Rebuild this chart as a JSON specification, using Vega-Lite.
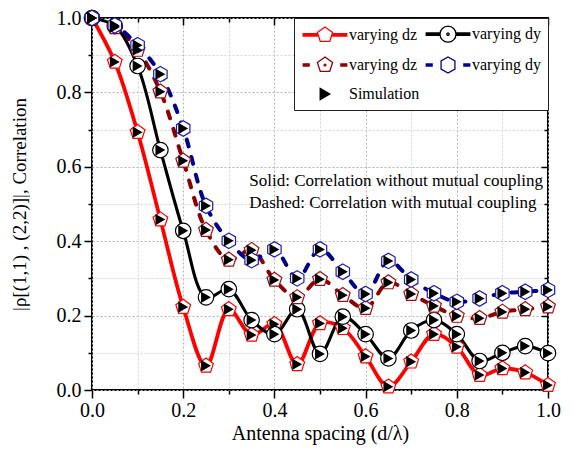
{
  "$schema": "https://vega.github.io/schema/vega-lite/v6.json",
  "width": 456,
  "height": 372,
  "autosize": "none",
  "padding": {"left": 92, "top": 18, "right": 25, "bottom": 59},
  "background": "white",
  "config": {
    "view": {"stroke": "black", "strokeWidth": 2},
    "font": "Liberation Serif",
    "axis": {"labelFont": "Liberation Serif", "titleFont": "Liberation Serif"},
    "legend": {"labelFont": "Liberation Serif", "titleFont": "Liberation Serif"},
    "text": {"font": "Liberation Serif"}
  },
  "datasets": {
    "corr": [
      {"x": 0.00, "v": 1.000, "s": "varying dz"}, {"x": 0.05, "v": 0.882, "s": "varying dz"}, {"x": 0.10, "v": 0.693, "s": "varying dz"}, {"x": 0.15, "v": 0.458, "s": "varying dz"}, {"x": 0.20, "v": 0.223, "s": "varying dz"}, {"x": 0.25, "v": 0.065, "s": "varying dz"}, {"x": 0.30, "v": 0.217, "s": "varying dz"}, {"x": 0.35, "v": 0.148, "s": "varying dz"}, {"x": 0.40, "v": 0.177, "s": "varying dz"}, {"x": 0.45, "v": 0.069, "s": "varying dz"}, {"x": 0.50, "v": 0.179, "s": "varying dz"}, {"x": 0.55, "v": 0.166, "s": "varying dz"}, {"x": 0.60, "v": 0.090, "s": "varying dz"}, {"x": 0.65, "v": 0.009, "s": "varying dz"}, {"x": 0.70, "v": 0.076, "s": "varying dz"}, {"x": 0.75, "v": 0.150, "s": "varying dz"}, {"x": 0.80, "v": 0.116, "s": "varying dz"}, {"x": 0.85, "v": 0.040, "s": "varying dz"}, {"x": 0.90, "v": 0.058, "s": "varying dz"}, {"x": 0.95, "v": 0.047, "s": "varying dz"}, {"x": 1.00, "v": 0.013, "s": "varying dz"},
      {"x": 0.00, "v": 1.000, "s": "varying dy"}, {"x": 0.05, "v": 0.978, "s": "varying dy"}, {"x": 0.10, "v": 0.871, "s": "varying dy"}, {"x": 0.15, "v": 0.645, "s": "varying dy"}, {"x": 0.20, "v": 0.428, "s": "varying dy"}, {"x": 0.25, "v": 0.249, "s": "varying dy"}, {"x": 0.30, "v": 0.271, "s": "varying dy"}, {"x": 0.35, "v": 0.188, "s": "varying dy"}, {"x": 0.40, "v": 0.150, "s": "varying dy"}, {"x": 0.45, "v": 0.217, "s": "varying dy"}, {"x": 0.50, "v": 0.097, "s": "varying dy"}, {"x": 0.55, "v": 0.197, "s": "varying dy"}, {"x": 0.60, "v": 0.150, "s": "varying dy"}, {"x": 0.65, "v": 0.085, "s": "varying dy"}, {"x": 0.70, "v": 0.160, "s": "varying dy"}, {"x": 0.75, "v": 0.188, "s": "varying dy"}, {"x": 0.80, "v": 0.150, "s": "varying dy"}, {"x": 0.85, "v": 0.078, "s": "varying dy"}, {"x": 0.90, "v": 0.100, "s": "varying dy"}, {"x": 0.95, "v": 0.118, "s": "varying dy"}, {"x": 1.00, "v": 0.099, "s": "varying dy"},
      {"x": 0.00, "v": 1.000, "s": "varying dz "}, {"x": 0.05, "v": 0.975, "s": "varying dz "}, {"x": 0.10, "v": 0.914, "s": "varying dz "}, {"x": 0.15, "v": 0.802, "s": "varying dz "}, {"x": 0.20, "v": 0.616, "s": "varying dz "}, {"x": 0.25, "v": 0.430, "s": "varying dz "}, {"x": 0.30, "v": 0.350, "s": "varying dz "}, {"x": 0.35, "v": 0.376, "s": "varying dz "}, {"x": 0.40, "v": 0.296, "s": "varying dz "}, {"x": 0.45, "v": 0.249, "s": "varying dz "}, {"x": 0.50, "v": 0.298, "s": "varying dz "}, {"x": 0.55, "v": 0.255, "s": "varying dz "}, {"x": 0.60, "v": 0.220, "s": "varying dz "}, {"x": 0.65, "v": 0.289, "s": "varying dz "}, {"x": 0.70, "v": 0.258, "s": "varying dz "}, {"x": 0.75, "v": 0.226, "s": "varying dz "}, {"x": 0.80, "v": 0.199, "s": "varying dz "}, {"x": 0.85, "v": 0.193, "s": "varying dz "}, {"x": 0.90, "v": 0.210, "s": "varying dz "}, {"x": 0.95, "v": 0.217, "s": "varying dz "}, {"x": 1.00, "v": 0.224, "s": "varying dz "},
      {"x": 0.00, "v": 1.000, "s": "varying dy "}, {"x": 0.05, "v": 0.980, "s": "varying dy "}, {"x": 0.10, "v": 0.927, "s": "varying dy "}, {"x": 0.15, "v": 0.849, "s": "varying dy "}, {"x": 0.20, "v": 0.703, "s": "varying dy "}, {"x": 0.25, "v": 0.495, "s": "varying dy "}, {"x": 0.30, "v": 0.401, "s": "varying dy "}, {"x": 0.35, "v": 0.349, "s": "varying dy "}, {"x": 0.40, "v": 0.378, "s": "varying dy "}, {"x": 0.45, "v": 0.300, "s": "varying dy "}, {"x": 0.50, "v": 0.378, "s": "varying dy "}, {"x": 0.55, "v": 0.318, "s": "varying dy "}, {"x": 0.60, "v": 0.258, "s": "varying dy "}, {"x": 0.65, "v": 0.347, "s": "varying dy "}, {"x": 0.70, "v": 0.297, "s": "varying dy "}, {"x": 0.75, "v": 0.260, "s": "varying dy "}, {"x": 0.80, "v": 0.237, "s": "varying dy "}, {"x": 0.85, "v": 0.246, "s": "varying dy "}, {"x": 0.90, "v": 0.260, "s": "varying dy "}, {"x": 0.95, "v": 0.264, "s": "varying dy "}, {"x": 1.00, "v": 0.269, "s": "varying dy "}
    ]
  },
  "data": {"name": "corr"},
  "resolve": {"axis": {"x": "independent", "y": "independent"}},
  "layer": [
    {
      "transform": [{"filter": "datum.s == 'varying dz ' || datum.s == 'varying dy '"}],
      "mark": {"type": "line", "strokeWidth": 4, "strokeDash": [7, 11], "strokeCap": "round", "interpolate": "catmull-rom"},
      "encoding": {
        "x": {"field": "x", "type": "quantitative", "scale": {"domain": [0, 1], "nice": false},
          "axis": {"orient": "bottom", "values": [0, 0.1, 0.2, 0.3, 0.4, 0.5, 0.6, 0.7, 0.8, 0.9, 1.0], "format": ".1f",
            "labelOpacity": {"condition": {"test": "round(datum.value*10) % 2 == 0", "value": 1}, "value": 0},
            "tickSize": {"condition": {"test": "round(datum.value*10) % 2 == 0", "value": 8}, "value": 4},
            "tickColor": "black", "tickWidth": 1.5, "domain": false,
            "grid": true, "gridColor": {"condition": {"test": "round(datum.value*10) % 2 == 0", "value": "#b4b4b4"}, "value": "#d2d2d2"}, "gridDash": [2, 2], "gridWidth": 1,
            "labelFont": "Liberation Serif", "labelFontSize": 20, "labelColor": "black", "labelPadding": 2, "labelFlush": false, "labelOverlap": false,
            "title": "Antenna spacing (d/λ)", "titleFont": "Liberation Serif", "titleFontSize": 20, "titleFontWeight": "normal", "titleColor": "black", "titlePadding": 3}},
        "y": {"field": "v", "type": "quantitative", "scale": {"domain": [0, 1], "nice": false},
          "axis": {"orient": "left", "values": [0, 0.1, 0.2, 0.3, 0.4, 0.5, 0.6, 0.7, 0.8, 0.9, 1.0], "format": ".1f",
            "labelOpacity": {"condition": {"test": "round(datum.value*10) % 2 == 0", "value": 1}, "value": 0},
            "tickSize": {"condition": {"test": "round(datum.value*10) % 2 == 0", "value": 8}, "value": 4},
            "tickColor": "black", "tickWidth": 1.5, "domain": false,
            "grid": true, "gridColor": {"condition": {"test": "round(datum.value*10) % 2 == 0", "value": "#b4b4b4"}, "value": "#d2d2d2"}, "gridDash": [2, 2], "gridWidth": 1,
            "labelFont": "Liberation Serif", "labelFontSize": 20, "labelColor": "black", "labelPadding": 3, "labelFlush": false, "labelOverlap": false,
            "title": "|ρ[(1,1) , (2,2)]|, Correlation", "titleFont": "Liberation Serif", "titleFontSize": 19, "titleFontWeight": "normal", "titleColor": "black", "titlePadding": 27}},
        "color": {"field": "s", "type": "nominal",
          "scale": {"domain": ["varying dz", "varying dz ", "Simulation", "varying dy", "varying dy "], "range": ["#ff0000", "#8b0000", "#000000", "#000000", "#00008b"]},
          "legend": {"title": null, "orient": "top-right", "offset": 0, "columns": 2, "padding": 7, "rowPadding": 9, "columnPadding": 3,
            "strokeColor": "#222222", "fillColor": "white", "cornerRadius": 0,
            "labelFont": "Liberation Serif", "labelFontSize": 16, "labelColor": "black", "labelLimit": 0,
            "symbolSize": 256, "symbolOffset": 15, "labelOffset": 15,
            "encode": {"symbols": {"update": {
              "shape": {"signal": "datum.value == 'varying dz' ? 'M-2.8,-0.15H-0.9M-2.8,0H-0.9M-2.8,0.15H-0.9M0.9,-0.15H2.8M0.9,0H2.8M0.9,0.15H2.8M0,-1L0.951,-0.309L0.588,0.809L-0.588,0.809L-0.951,-0.309Z' : datum.value == 'varying dy' ? 'M-2.8,-0.15H-1M-2.8,0H-1M-2.8,0.15H-1M1,-0.15H2.8M1,0H2.8M1,0.15H2.8M1,0A1,1,0,1,1,-1,0A1,1,0,1,1,1,0ZM0.15,0A0.15,0.15,0,1,1,-0.15,0A0.15,0.15,0,1,1,0.15,0Z' : datum.value == 'varying dz ' ? 'M-2.8,-0.15H-1.9M-2.8,0H-1.9M-2.8,0.15H-1.9M1.9,-0.15H2.8M1.9,0H2.8M1.9,0.15H2.8M0,-1L0.951,-0.309L0.588,0.809L-0.588,0.809L-0.951,-0.309ZM0.12,0A0.12,0.12,0,1,1,-0.12,0A0.12,0.12,0,1,1,0.12,0Z' : datum.value == 'varying dy ' ? 'M-2.8,-0.15H-1.9M-2.8,0H-1.9M-2.8,0.15H-1.9M1.9,-0.15H2.8M1.9,0H2.8M1.9,0.15H2.8M0,-1L0.866,-0.5L0.866,0.5L0,1L-0.866,0.5L-0.866,-0.5Z' : 'M0.6,0L-0.6,-0.7L-0.6,0.7Z'"},
              "fill": {"signal": "datum.value == 'Simulation' ? 'black' : 'white'"},
              "strokeWidth": {"value": 1.3},
              "strokeDash": {"value": []},
              "size": {"value": 256},
              "opacity": {"value": 1}
            }}}}
        }
      }
    },
    {
      "transform": [{"filter": "datum.s == 'varying dz' || datum.s == 'varying dy'"}],
      "mark": {"type": "line", "interpolate": "catmull-rom"},
      "encoding": {
        "x": {"field": "x", "type": "quantitative",
          "axis": {"orient": "top", "values": [0, 0.1, 0.2, 0.3, 0.4, 0.5, 0.6, 0.7, 0.8, 0.9, 1.0], "labels": false,
            "tickSize": {"condition": {"test": "round(datum.value*10) % 2 == 0", "value": -7}, "value": -4},
            "tickColor": "black", "tickWidth": 1.5, "domain": false, "grid": false, "title": null}},
        "y": {"field": "v", "type": "quantitative",
          "axis": {"orient": "right", "values": [0, 0.1, 0.2, 0.3, 0.4, 0.5, 0.6, 0.7, 0.8, 0.9, 1.0], "labels": false,
            "tickSize": {"condition": {"test": "round(datum.value*10) % 2 == 0", "value": -7}, "value": -4},
            "tickColor": "black", "tickWidth": 1.5, "domain": false, "grid": false, "title": null}},
        "color": {"field": "s", "type": "nominal"},
        "strokeWidth": {"field": "s", "type": "nominal", "legend": null,
          "scale": {"domain": ["varying dz", "varying dy"], "range": [3.8, 3.1]}}
      }
    },
    {
      "mark": {"type": "point", "filled": false, "fill": "white", "strokeWidth": 1.2, "opacity": 1, "size": 240},
      "encoding": {
        "x": {"field": "x", "type": "quantitative", "axis": null},
        "y": {"field": "v", "type": "quantitative", "axis": null},
        "shape": {"field": "s", "type": "nominal", "legend": null,
          "scale": {"domain": ["varying dz", "varying dy", "varying dz ", "varying dy "], "range": [
            "M0,-1L0.951,-0.309L0.588,0.809L-0.588,0.809L-0.951,-0.309Z",
            "M1,0A1,1,0,1,1,-1,0A1,1,0,1,1,1,0Z",
            "M0,-1L0.951,-0.309L0.588,0.809L-0.588,0.809L-0.951,-0.309Z",
            "M0,-1L0.866,-0.5L0.866,0.5L0,1L-0.866,0.5L-0.866,-0.5Z"]}},
        "stroke": {"field": "s", "type": "nominal", "legend": null,
          "scale": {"domain": ["varying dz", "varying dy", "varying dz ", "varying dy "], "range": ["#ff0000", "#000000", "#a01010", "#1a1ab8"]}}
      }
    },
    {
      "mark": {"type": "point", "filled": true, "shape": "triangle-right", "color": "black", "opacity": 1, "size": 130},
      "encoding": {
        "x": {"field": "x", "type": "quantitative", "axis": null},
        "y": {"field": "v", "type": "quantitative", "axis": null}
      }
    },
    {
      "data": {"values": [{}]},
      "mark": {"type": "text", "font": "Liberation Serif", "fontSize": 17, "align": "left", "baseline": "middle", "color": "black", "text": "Solid: Correlation without mutual coupling"},
      "encoding": {
        "x": {"datum": 0.345, "type": "quantitative", "axis": null},
        "y": {"datum": 0.563, "type": "quantitative", "axis": null}
      }
    },
    {
      "data": {"values": [{}]},
      "mark": {"type": "text", "font": "Liberation Serif", "fontSize": 17, "align": "left", "baseline": "middle", "color": "black", "text": "Dashed: Correlation with mutual coupling"},
      "encoding": {
        "x": {"datum": 0.345, "type": "quantitative", "axis": null},
        "y": {"datum": 0.502, "type": "quantitative", "axis": null}
      }
    }
  ]
}
